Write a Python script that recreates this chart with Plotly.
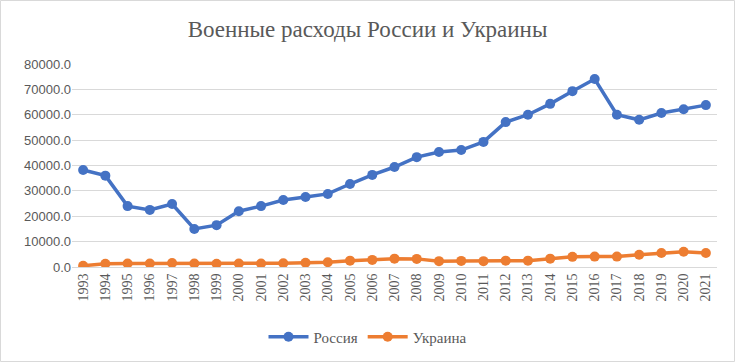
import plotly.graph_objects as go

years = [str(y) for y in range(1993, 2022)]
russia = [38200, 36000, 24000, 22500, 24800, 15000, 16500, 22000, 24000, 26400,
          27600, 28800, 32700, 36300, 39400, 43300, 45300, 46100, 49300, 57100,
          60000, 64300, 69300, 74100, 60000, 58000, 60700, 62200, 63800]
ukraine = [500, 1300, 1400, 1400, 1600, 1400, 1300, 1400, 1400, 1500,
           1700, 1900, 2500, 2800, 3300, 3200, 2300, 2400, 2300, 2500,
           2500, 3300, 4000, 4100, 4100, 4800, 5500, 6000, 5500]

W, H = 735, 362
L, R, T, B = 72, 18, 64, 95
pw, ph = W - L - R, H - T - B
SERIF = "Liberation Serif, Times New Roman, serif"

fig = go.Figure()
fig.add_trace(go.Scatter(x=years, y=russia, name="Россия", mode="lines+markers",
                         line=dict(color="#4472C4", width=3.5),
                         marker=dict(size=10, color="#4472C4")))
fig.add_trace(go.Scatter(x=years, y=ukraine, name="Украина", mode="lines+markers",
                         line=dict(color="#ED7D31", width=3.5),
                         marker=dict(size=10, color="#ED7D31")))

fig.update_layout(
    width=W, height=H,
    margin=dict(l=L, r=R, t=T, b=B, autoexpand=False),
    paper_bgcolor="white", plot_bgcolor="white",
    title=dict(text="Военные расходы России и Украины", x=0.5, xref="container",
               xanchor="center", y=1 - 29 / H, yref="container", yanchor="middle",
               font=dict(family=SERIF, size=23, color="#595959")),
    showlegend=True,
    legend=dict(orientation="h", x=(W / 2 - L) / pw, xanchor="center",
                y=-(337 - (T + ph)) / ph, yanchor="middle",
                font=dict(family=SERIF, size=15, color="#595959"),
                itemwidth=40),
    xaxis=dict(type="category", range=[-0.5, 28.5], tickangle=-90,
               showgrid=False, showline=True, linecolor="#d9d9d9", ticks="",
               automargin=False,
               tickfont=dict(family=SERIF, size=14, color="#595959")),
    yaxis=dict(range=[0, 80000], dtick=10000, tickformat=".1f",
               showgrid=True, gridcolor="#d9d9d9", gridwidth=1, zeroline=False,
               showline=False, ticks="", automargin=False,
               tickfont=dict(family="Liberation Sans", size=13, color="#595959")),
    shapes=[dict(type="rect", xref="paper", yref="paper",
                 x0=(0.5 - L) / pw, x1=(W - 0.5 - L) / pw,
                 y0=-(H - 0.5 - T - ph) / ph, y1=1 + (T - 0.5) / ph,
                 line=dict(color="#d9d9d9", width=1), layer="above")],
)

fig.write_html("out.html",
               config={"displayModeBar": False},
               post_script="document.body.style.margin='0';document.body.style.overflow='hidden';")
